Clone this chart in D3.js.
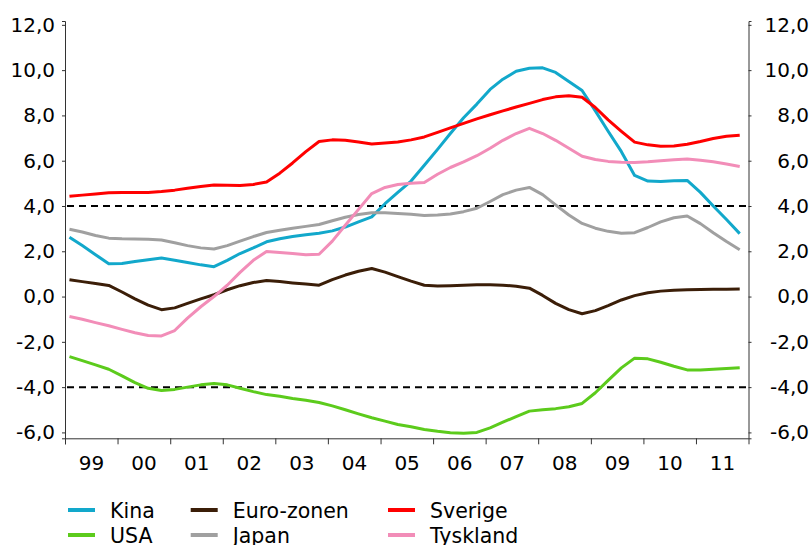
<!DOCTYPE html>
<html>
<head>
<meta charset="utf-8">
<script src="https://cdn.jsdelivr.net/npm/d3@7"></script>
<style>
  body { margin: 0; background: #fff; }
  svg { display: block; font-family: "DejaVu Sans", Verdana, sans-serif; }
</style>
</head>
<body>
<div id="chart"></div>
<script>
// year labels on the x axis, one band per year
const years = ["99", "00", "01", "02", "03", "04", "05", "06", "07", "08", "09", "10", "11"];
const fullYears = d3.range(1999, 2012);
// four readings per year (Feb, May, Aug, Nov)
const months = [1, 4, 7, 10];

const kina = [2.62, 2.25, 1.85, 1.45, 1.46, 1.55, 1.63, 1.70, 1.60, 1.50, 1.40, 1.32,
  1.60, 1.90, 2.15, 2.42, 2.55, 2.65, 2.73, 2.80, 2.90, 3.07, 3.30, 3.52,
  4.10, 4.60, 5.10, 5.80, 6.50, 7.20, 7.90, 8.50, 9.15, 9.60, 9.95, 10.08,
  10.10, 9.90, 9.50, 9.10, 8.20, 7.30, 6.40, 5.35, 5.10, 5.08, 5.12, 5.13,
  4.60, 4.00, 3.40, 2.78];
const usa = [-2.65, -2.83, -3.02, -3.21, -3.50, -3.80, -4.05, -4.15, -4.10, -4.00, -3.90, -3.84,
  -3.90, -4.05, -4.20, -4.33, -4.40, -4.50, -4.58, -4.68, -4.83, -5.00, -5.18, -5.35,
  -5.50, -5.65, -5.75, -5.87, -5.95, -6.01, -6.04, -6.00, -5.80, -5.55, -5.30, -5.06,
  -5.00, -4.95, -4.87, -4.72, -4.25, -3.70, -3.15, -2.72, -2.75, -2.90, -3.08, -3.24,
  -3.24, -3.21, -3.18, -3.14];
const euro = [0.74, 0.66, 0.58, 0.49, 0.20, -0.10, -0.38, -0.58, -0.50, -0.30, -0.10, 0.08,
  0.30, 0.48, 0.62, 0.71, 0.66, 0.60, 0.55, 0.50, 0.75, 0.95, 1.12, 1.24,
  1.08, 0.88, 0.68, 0.50, 0.47, 0.48, 0.50, 0.52, 0.52, 0.50, 0.46, 0.37,
  0.05, -0.30, -0.58, -0.76, -0.62, -0.40, -0.15, 0.04, 0.17, 0.24, 0.28, 0.30,
  0.31, 0.32, 0.32, 0.33];
const japan = [2.97, 2.85, 2.70, 2.58, 2.55, 2.54, 2.53, 2.50, 2.38, 2.25, 2.15, 2.10,
  2.25, 2.45, 2.65, 2.83, 2.93, 3.02, 3.10, 3.18, 3.35, 3.50, 3.62, 3.70,
  3.70, 3.67, 3.63, 3.58, 3.60, 3.65, 3.75, 3.90, 4.20, 4.50, 4.70, 4.82,
  4.50, 4.05, 3.60, 3.23, 3.02, 2.88, 2.80, 2.82, 3.05, 3.30, 3.48, 3.56,
  3.22, 2.82, 2.43, 2.07];
const sverige = [4.43, 4.48, 4.53, 4.58, 4.60, 4.60, 4.60, 4.64, 4.70, 4.78, 4.86, 4.93,
  4.92, 4.91, 4.95, 5.06, 5.45, 5.90, 6.40, 6.85, 6.92, 6.90, 6.83, 6.74,
  6.78, 6.83, 6.92, 7.05, 7.25, 7.45, 7.65, 7.85, 8.03, 8.20, 8.37, 8.53,
  8.70, 8.82, 8.87, 8.80, 8.35, 7.80, 7.30, 6.82, 6.70, 6.64, 6.65, 6.73,
  6.85, 6.98, 7.08, 7.12];
const tyskland = [-0.88, -1.00, -1.15, -1.29, -1.45, -1.60, -1.72, -1.74, -1.50, -0.95, -0.45, 0.00,
  0.50, 1.07, 1.60, 1.99, 1.95, 1.90, 1.85, 1.87, 2.45, 3.15, 3.85, 4.55,
  4.82, 4.95, 5.00, 5.04, 5.40, 5.70, 5.95, 6.22, 6.55, 6.90, 7.20, 7.43,
  7.20, 6.90, 6.55, 6.20, 6.05, 5.97, 5.93, 5.92, 5.95, 6.00, 6.04, 6.07,
  6.02, 5.95, 5.85, 5.74];

const yTicks = [-6, -4, -2, 0, 2, 4, 6, 8, 10, 12];
const refLines = [4, -4];

const seriesNames = ["Kina", "USA", "Euro-zonen", "Japan", "Sverige", "Tyskland"];
const seriesValues = [kina, usa, euro, japan, sverige, tyskland];
const colors = ["#12a8cb", "#5ccb1c", "#3b1e08", "#a0a0a0", "#ff0000", "#f28db8"];

const dates = [];
fullYears.forEach(yr => months.forEach(m => dates.push(new Date(yr, m, 1))));

const width = 810, height = 545;
const plot = { left: 65, right: 748.5, top: 21, bottom: 438.3 };

const svg = d3.select("#chart").append("svg")
  .attr("width", width)
  .attr("height", height);

const x = d3.scaleTime()
  .domain([new Date(1999, 0, 1), new Date(2012, 0, 1)])
  .range([plot.left, plot.right]);

const y = d3.scaleLinear()
  .domain([-6.26, 12.17])
  .range([plot.bottom, plot.top]);

const fmt = v => d3.format(".1f")(v).replace(".", ",").replace("−", "-");

// left axis
svg.append("g")
  .attr("transform", `translate(${plot.left},0)`)
  .call(d3.axisLeft(y).tickValues(yTicks).tickSize(3).tickPadding(7).tickFormat(fmt));

// right axis
const gr = svg.append("g")
  .attr("transform", `translate(${plot.right},0)`)
  .call(d3.axisRight(y).tickValues(yTicks).tickSize(3).tickFormat(fmt));
gr.selectAll(".tick text")
  .attr("text-anchor", "end")
  .attr("x", width - 1 - plot.right);

// bottom axis: ticks at year starts, labels centred in each year
const halfYear = x(new Date(1999, 6, 1)) - x(new Date(1999, 0, 1));
const gb = svg.append("g")
  .attr("transform", `translate(0,${plot.bottom})`)
  .call(d3.axisBottom(x)
    .tickValues(fullYears.map(yr => new Date(yr, 0, 1)))
    .tickSize(6)
    .tickPadding(12)
    .tickFormat((d, i) => years[i]));
gb.selectAll(".tick text").attr("dx", halfYear);

svg.selectAll(".domain").attr("stroke", "#333");
svg.selectAll(".tick line").attr("stroke", "#333");
svg.selectAll(".tick text")
  .attr("font-size", 20)
  .attr("font-family", "'DejaVu Sans', Verdana, sans-serif")
  .attr("fill", "#000");

// dashed reference lines
svg.selectAll(".ref")
  .data(refLines)
  .enter().append("line")
  .attr("class", "ref")
  .attr("x1", plot.left + 2)
  .attr("x2", plot.right - 2)
  .attr("y1", d => y(d))
  .attr("y2", d => y(d))
  .attr("stroke", "#000")
  .attr("stroke-width", 2)
  .attr("stroke-dasharray", "7,5");

const line = d3.line()
  .x((d, i) => x(dates[i]))
  .y(d => y(d));

svg.selectAll(".series")
  .data(seriesValues)
  .enter().append("path")
  .attr("class", "series")
  .attr("d", d => line(d))
  .attr("fill", "none")
  .attr("stroke", (d, i) => colors[i])
  .attr("stroke-width", 3)
  .attr("stroke-linejoin", "round");

// legend, three columns of two rows
const legendX = [68, 190.7, 388];
const legendY = [510, 535];
const legend = svg.selectAll(".legend")
  .data(seriesNames)
  .enter().append("g")
  .attr("class", "legend")
  .attr("transform", (d, i) => `translate(${legendX[Math.floor(i / 2)]},${legendY[i % 2]})`);

legend.append("line")
  .attr("x1", 0)
  .attr("x2", 27)
  .attr("stroke", (d, i) => colors[i])
  .attr("stroke-width", 4);

legend.append("text")
  .attr("x", 42)
  .attr("y", 7.5)
  .attr("font-size", 20.5)
  .attr("fill", "#000")
  .text(d => d);
</script>
</body>
</html>
